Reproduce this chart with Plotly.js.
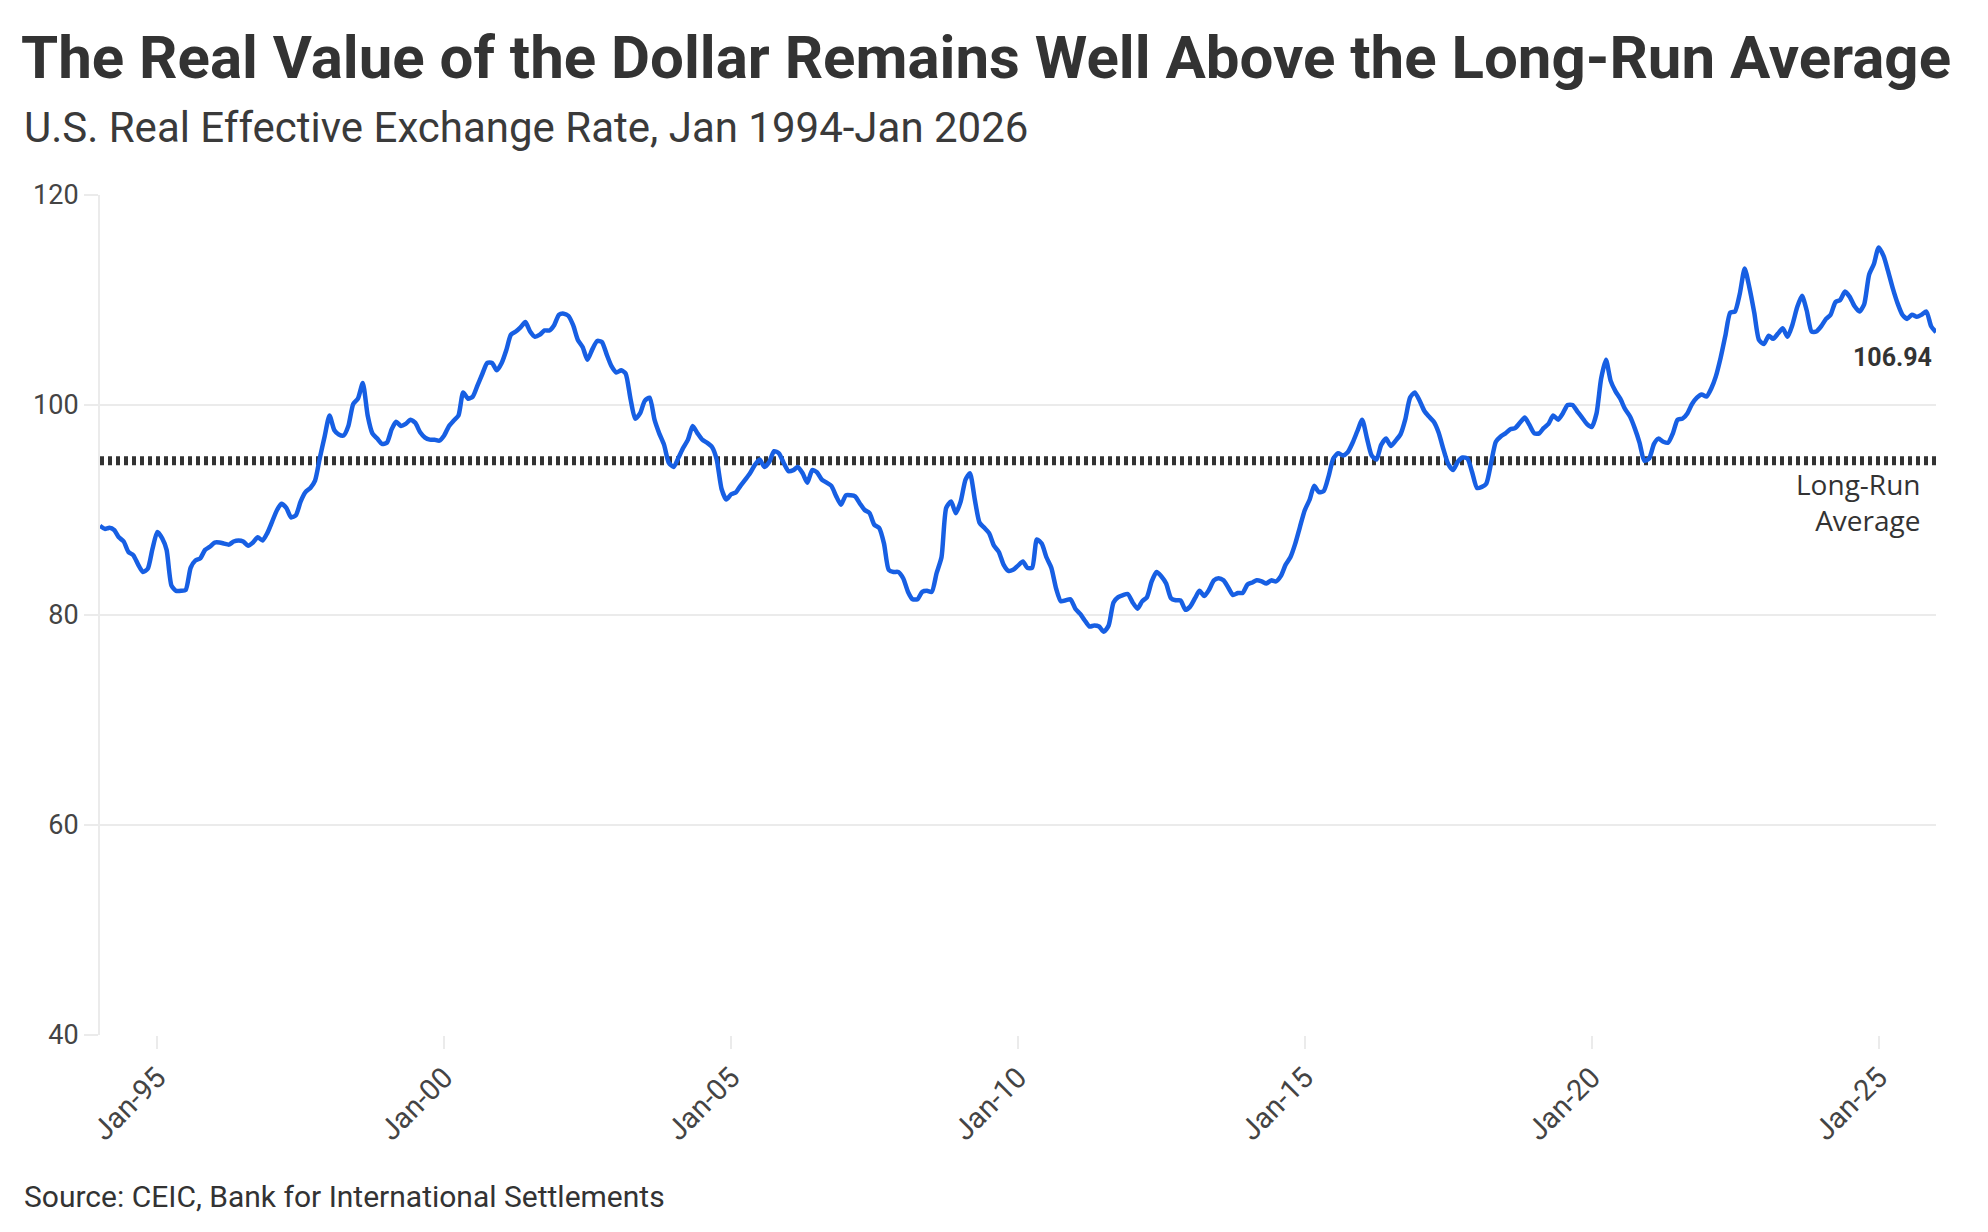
<!DOCTYPE html>
<html>
<head>
<meta charset="utf-8">
<script src="https://cdn.plot.ly/plotly-3.0.1.min.js"></script>
<style>
  html, body { margin: 0; padding: 0; background: #ffffff; }
  #chart { width: 1988px; height: 1232px; }
</style>
</head>
<body>
<div id="chart"></div>
<script>
// ---- Data ----
const startYear = 1994;
// Monthly U.S. real effective exchange rate, Jan 1994 .. Jan 2026
const reerValues = [
  // 1994
  88.5, 88.2, 88.3, 88.1, 87.4, 87.0, 86.0, 85.7, 84.8, 84.1, 84.4, 86.3,
  // 1995
  87.9, 87.3, 86.2, 82.8, 82.3, 82.3, 82.4, 84.5, 85.2, 85.4, 86.2, 86.5,
  // 1996
  86.9, 86.9, 86.8, 86.7, 87.0, 87.1, 87.0, 86.6, 86.9, 87.4, 87.1, 87.8,
  // 1997
  88.9, 90.0, 90.6, 90.2, 89.3, 89.5, 90.8, 91.7, 92.1, 92.8, 95.0, 97.0,
  // 1998
  99.0, 97.6, 97.2, 97.1, 98.0, 100.1, 100.6, 102.1, 99.0, 97.3, 96.8, 96.3,
  // 1999
  96.4, 97.7, 98.4, 98.0, 98.2, 98.6, 98.3, 97.4, 96.9, 96.7, 96.7, 96.6,
  // 2000
  97.1, 98.0, 98.5, 99.0, 101.2, 100.6, 100.8, 101.9, 103.0, 104.0, 104.0, 103.3,
  // 2001
  104.0, 105.3, 106.7, 107.0, 107.4, 107.9, 107.0, 106.5, 106.7, 107.1, 107.1, 107.6,
  // 2002
  108.6, 108.7, 108.5, 107.6, 106.2, 105.5, 104.3, 105.3, 106.1, 106.0, 104.8, 103.7,
  // 2003
  103.1, 103.3, 103.0, 100.6, 98.7, 99.2, 100.4, 100.7, 98.6, 97.3, 96.2, 94.5,
  // 2004
  94.1, 95.0, 95.9, 96.7, 98.0, 97.3, 96.7, 96.4, 96.0, 94.8, 92.0, 91.0,
  // 2005
  91.5, 91.7, 92.3, 92.9, 93.5, 94.3, 94.8, 94.1, 94.6, 95.6, 95.4, 94.5,
  // 2006
  93.7, 93.8, 94.1, 93.5, 92.6, 93.8, 93.6, 92.9, 92.6, 92.3, 91.3, 90.5,
  // 2007
  91.4, 91.4, 91.3, 90.6, 90.0, 89.7, 88.6, 88.3, 86.8, 84.3, 84.1, 84.1,
  // 2008
  83.5, 82.2, 81.5, 81.5, 82.2, 82.3, 82.2, 84.0, 85.5, 90.2, 90.8, 89.7,
  // 2009
  90.8, 92.9, 93.5, 91.0, 88.8, 88.3, 87.8, 86.6, 86.0, 84.8, 84.2, 84.3,
  // 2010
  84.7, 85.1, 84.5, 84.5, 87.2, 86.8, 85.5, 84.5, 82.5, 81.3, 81.4, 81.5,
  // 2011
  80.6, 80.1, 79.5, 78.9, 79.0, 78.9, 78.4, 79.0, 81.2, 81.7, 81.9, 82.0,
  // 2012
  81.2, 80.6, 81.3, 81.7, 83.2, 84.1, 83.7, 83.0, 81.6, 81.4, 81.4, 80.5,
  // 2013
  80.8, 81.6, 82.3, 81.8, 82.4, 83.3, 83.5, 83.3, 82.6, 81.9, 82.1, 82.1,
  // 2014
  82.9, 83.1, 83.3, 83.2, 83.0, 83.3, 83.2, 83.7, 84.8, 85.5, 86.8, 88.4,
  // 2015
  90.0, 91.0, 92.3, 91.7, 91.8, 93.2, 94.9, 95.4, 95.2, 95.5, 96.4, 97.5,
  // 2016
  98.6, 96.8, 95.2, 94.8, 96.2, 96.8, 96.1, 96.6, 97.2, 98.6, 100.7, 101.2,
  // 2017
  100.4, 99.4, 98.9, 98.4, 97.4, 95.8, 94.4, 93.8, 94.6, 95.0, 94.9, 93.6,
  // 2018
  92.1, 92.2, 92.5, 94.5, 96.5, 97.0, 97.3, 97.7, 97.8, 98.3, 98.8, 98.1,
  // 2019
  97.3, 97.3, 97.8, 98.2, 99.0, 98.6, 99.2, 100.0, 100.0, 99.4, 98.8, 98.2,
  // 2020
  97.9, 99.2, 102.5, 104.3, 102.3, 101.3, 100.6, 99.6, 98.9, 97.8, 96.4, 94.7,
  // 2021
  94.9, 96.3, 96.8, 96.5, 96.4, 97.3, 98.6, 98.7, 99.2, 100.1, 100.7, 101.0,
  // 2022
  100.8, 101.6, 102.7, 104.5, 106.6, 108.8, 108.9, 110.6, 113.0, 111.2, 108.8, 106.2,
  // 2023
  105.8, 106.6, 106.3, 106.8, 107.3, 106.5, 107.6, 109.3, 110.4, 109.0, 107.0, 107.0,
  // 2024
  107.5, 108.2, 108.6, 109.8, 110.0, 110.8, 110.3, 109.4, 108.9, 109.6, 112.4, 113.4,
  // 2025
  115.0, 114.2, 112.8, 111.1, 109.7, 108.6, 108.2, 108.6, 108.4, 108.6, 108.9, 107.5,
  // 2026
  106.94
];
const longRunAverage = 94.7;
const lastValueLabel = "106.94";
const averageLabel = "Long-Run<br>Average";
const tickYears = [1995, 2000, 2005, 2010, 2015, 2020, 2025];
const yTickValues = [40, 60, 80, 100, 120];

const titleText = "The Real Value of the Dollar Remains Well Above the Long-Run Average";
const subtitleText = "U.S. Real Effective Exchange Rate, Jan 1994-Jan 2026";
const sourceText = "Source: CEIC, Bank for International Settlements";

// ---- Build dates ----
function pad(n) { return (n < 10 ? "0" : "") + n; }
const dates = reerValues.map((v, i) => {
  const y = startYear + Math.floor(i / 12);
  const m = (i % 12) + 1;
  return y + "-" + pad(m) + "-01";
});
const firstDate = dates[0];
const lastDate = dates[dates.length - 1];
const tickVals = tickYears.map(y => y + "-01-01");
const tickText = tickYears.map(y => "Jan-" + String(y).slice(2));

const txt = "#333333";
const tickCol = "#444444";
const grid = "#ebebeb";
const font = "Roboto, 'Open Sans', sans-serif";
const wideFont = "'Open Sans', Roboto, sans-serif";

// plot area: top 195px, bottom 1035px (height 840px)
const plotTop = 195, plotH = 840;
function paperY(px) { return (plotTop + plotH - px) / plotH; }

const traces = [
  {
    type: "scatter", mode: "lines",
    x: [firstDate, lastDate], y: [longRunAverage, longRunAverage],
    line: { color: "#333333", width: 9, dash: "4px,4px" },
    hoverinfo: "skip", showlegend: false
  },
  {
    type: "scatter", mode: "lines",
    x: dates, y: reerValues,
    line: { color: "#175FE3", width: 4.5, shape: "spline", smoothing: 0.6 },
    showlegend: false
  }
];

const layout = {
  width: 1988, height: 1232,
  paper_bgcolor: "#ffffff", plot_bgcolor: "#ffffff",
  margin: { l: 100, r: 52, t: 195, b: 197 },
  font: { family: font, color: txt },
  title: {
    text: "<b>" + titleText + "</b>",
    font: { family: font, size: 60, color: txt },
    xref: "container", yref: "container",
    x: 21 / 1988, xanchor: "left",
    y: 1 - 36 / 1232, yanchor: "top"
  },
  showlegend: false,
  xaxis: {
    type: "date",
    range: [firstDate, lastDate],
    tickmode: "array", tickvals: tickVals, ticktext: tickText,
    tickangle: -45,
    tickfont: { family: font, size: 29, color: tickCol },
    ticks: "outside", ticklen: 13, tickwidth: 2, tickcolor: grid,
    showgrid: false, zeroline: false, showline: false,
    fixedrange: true
  },
  yaxis: {
    range: [40, 120],
    tickmode: "array", tickvals: yTickValues,
    tickfont: { family: font, size: 27, color: tickCol },
    ticks: "outside", ticklen: 14, tickwidth: 2, tickcolor: grid,
    showgrid: true, gridcolor: grid, gridwidth: 2,
    showline: true, linecolor: grid, linewidth: 2,
    zeroline: false, fixedrange: true
  },
  annotations: [
    {
      xref: "paper", yref: "paper",
      x: 0, y: paperY(127), xanchor: "left", yanchor: "middle",
      xshift: -78,
      text: subtitleText, showarrow: false,
      font: { family: font, size: 42, color: "#3a3a3a" }
    },
    {
      xref: "x", yref: "y",
      x: lastDate, y: 104.56, xanchor: "right", yanchor: "middle",
      xshift: -2,
      text: "<b>" + lastValueLabel + "</b>", showarrow: false,
      font: { family: font, size: 25, color: txt }
    },
    {
      xref: "x", yref: "y",
      x: lastDate, y: 90.8, xanchor: "right", yanchor: "middle",
      xshift: -14, align: "right",
      text: averageLabel, showarrow: false,
      font: { family: wideFont, size: 28, color: txt }
    },
    {
      xref: "paper", yref: "paper",
      x: 0, y: paperY(1196), xanchor: "left", yanchor: "middle",
      xshift: -78,
      text: sourceText, showarrow: false,
      font: { family: font, size: 30, color: txt }
    }
  ]
};

Plotly.newPlot("chart", traces, layout, { displayModeBar: false, staticPlot: true });
</script>
</body>
</html>
